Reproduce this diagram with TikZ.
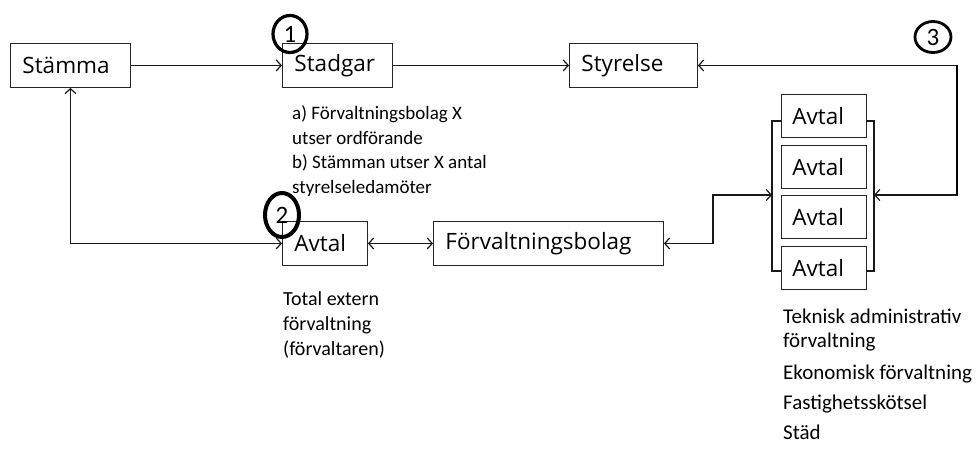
\documentclass[tikz,border=0pt]{standalone}
\usepackage{fontspec}
\setmainfont{Carlito}
\newfontfamily\boxfont{Open Sans}
\usetikzlibrary{arrows.meta,shapes.geometric}
\tikzset{barb/.tip={Straight Barb[length=5pt,width=11pt,line width=1.2pt]}}
\begin{document}
\begin{tikzpicture}[x=1pt,y=-1pt,
  box/.style={draw=black!85, line width=0.9pt, anchor=north west, minimum height=44pt,
    inner xsep=12pt, inner ysep=0pt, font=\boxfont\fontsize{22.5}{26}\selectfont, align=left},
  conn/.style={line width=1.3pt, black!90},
  num/.style={draw, ellipse, inner sep=0pt, font=\fontsize{25}{26}\selectfont},
  note/.style={anchor=base west, inner sep=0pt, align=left},
  brk/.style={line width=1.8pt, black!90}
]
\useasboundingbox (0,0) rectangle (978,450);

% boxes
\node[box, text width=96pt] (st) at (10,43) {Stämma};
\node[box, text width=86pt] (sg) at (282,43) {Stadgar};
\node[box, text width=104pt] (sy) at (569,43) {Styrelse};
\node[box, text width=61pt] (av) at (282,221) {Avtal};
\node[box, text width=206pt] (fb) at (433,221) {Förvaltningsbolag};
\node[box, text width=63pt, minimum height=43pt, inner xsep=11pt] (a1) at (781,94) {Avtal};
\node[box, text width=63pt, minimum height=43pt, inner xsep=11pt] (a2) at (781,145) {Avtal};
\node[box, text width=63pt, minimum height=43pt, inner xsep=11pt] (a3) at (781,195) {Avtal};
\node[box, text width=63pt, minimum height=43pt, inner xsep=11pt] (a4) at (781,246) {Avtal};

% brackets
\draw[brk] (781,121) -- (772,121) -- (772,271) -- (781,271);
\draw[brk] (866,121) -- (874,121) -- (874,271) -- (866,271);
\coordinate (lb) at (772,195);
\coordinate (rb) at (874,195);

% numbered circles
\node[num, line width=3.2pt, minimum width=34pt, minimum height=37pt] (n1) at (290,34) {1};
\node[num, line width=4pt, minimum width=34pt, minimum height=44pt] (n2) at (282,215) {2};
\node[num, line width=2.8pt, minimum width=36pt, minimum height=31pt] (n3) at (933,37) {3};

% connectors
\draw[conn, -{barb}] (st.east) -- (sg.west);
\draw[conn, -{barb}] (sg.east) -- (sy.west);
\coordinate (k3) at (957,195);
\coordinate (k3t) at (957,65);
\draw[conn, {barb}-{barb}] (sy.east) -| (k3) -- (rb);
\draw[line width=2.8pt] (k3t) -- (k3);
\draw[conn, {barb}-{barb}] (st.south) |- (av.west);
\draw[conn, {barb}-{barb}] (av.east) -- (fb.west);
\coordinate (k6) at (713,195);
\draw[conn, {barb}-{barb}] (fb.east) -| (k6) -- (lb);

% notes (anchored at the baseline of the last line)
\node[note, font=\fontsize{19}{24.5}\selectfont] (t1) at (292,193)
  {a) Förvaltningsbolag X\\utser ordförande\\b) Stämman utser X antal\\styrelseledamöter};
\node[note, font=\fontsize{20}{25}\selectfont] (t2) at (283,355)
  {Total extern\\förvaltning\\(förvaltaren)};
\node[note, font=\fontsize{21}{24}\selectfont] (t3) at (783,347)
  {Teknisk administrativ\\förvaltning};
\node[note, font=\fontsize{21}{24}\selectfont] (t4) at (783,379) {Ekonomisk förvaltning};
\node[note, font=\fontsize{21}{24}\selectfont] (t5) at (783,409) {Fastighetsskötsel};
\node[note, font=\fontsize{21}{24}\selectfont] (t6) at (783,439) {Städ};
\end{tikzpicture}
\end{document}
